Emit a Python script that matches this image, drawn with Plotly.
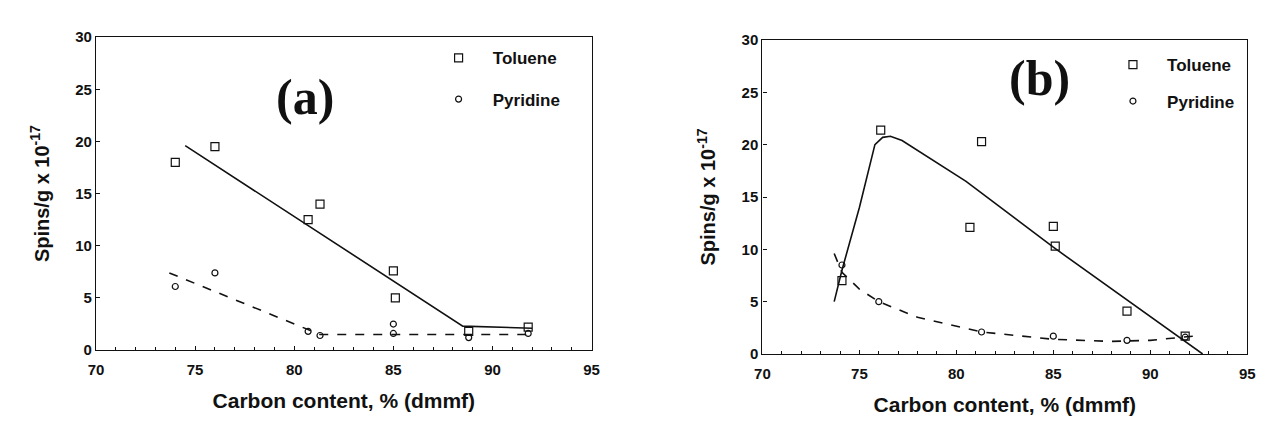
import plotly.graph_objects as go

# ---- Panel (a) data ----
a_tol_x = [74.0, 76.0, 80.7, 81.3, 85.0, 85.1, 88.8, 91.8]
a_tol_y = [18.0, 19.5, 12.5, 14.0, 7.6, 5.0, 1.8, 2.2]
a_pyr_x = [74.0, 76.0, 80.7, 81.3, 85.0, 85.0, 88.8, 91.8]
a_pyr_y = [6.1, 7.4, 1.8, 1.4, 2.5, 1.6, 1.2, 1.6]
a_tol_fit_x = [74.5, 88.5, 92.0]
a_tol_fit_y = [19.6, 2.3, 2.1]
a_pyr_fit_x = [73.7, 81.3, 92.0]
a_pyr_fit_y = [7.4, 1.5, 1.5]

# ---- Panel (b) data ----
b_tol_x = [74.1, 76.1, 80.7, 81.3, 85.0, 85.1, 88.8, 91.8]
b_tol_y = [7.0, 21.4, 12.1, 20.3, 12.2, 10.3, 4.1, 1.7]
b_pyr_x = [74.1, 76.0, 81.3, 85.0, 88.8, 91.8]
b_pyr_y = [8.5, 5.0, 2.1, 1.7, 1.3, 1.6]
b_tol_fit_x = [73.7, 74.1, 75.0, 75.8, 76.2, 76.6, 77.2, 80.5, 85.0, 92.7]
b_tol_fit_y = [5.0, 8.0, 14.0, 20.0, 20.7, 20.8, 20.4, 16.5, 10.2, 0.0]
b_pyr_fit_x = [73.7, 74.1, 75.0, 76.0, 78.0, 81.3, 85.0, 88.0, 90.0, 92.2]
b_pyr_fit_y = [9.6, 7.8, 6.2, 5.0, 3.5, 2.1, 1.4, 1.2, 1.3, 1.7]

x_ticks = [70, 75, 80, 85, 90, 95]
y_ticks = [0, 5, 10, 15, 20, 25, 30]

FONT = "Liberation Sans"
ink = "#111111"
NB = "\u00a0\u00a0\u00a0"

fig = go.Figure()

def add_panel(xa, ya, tx, ty, px, py, tfx, tfy, pfx, pfy, leg1, leg2):
    fig.add_trace(go.Scatter(x=tfx, y=tfy, mode="lines", xaxis=xa, yaxis=ya,
                             line=dict(color=ink, width=1.6), showlegend=False, hoverinfo="skip"))
    fig.add_trace(go.Scatter(x=pfx, y=pfy, mode="lines", xaxis=xa, yaxis=ya,
                             line=dict(color=ink, width=1.6, dash="dash"), showlegend=False, hoverinfo="skip"))
    fig.add_trace(go.Scatter(x=tx, y=ty, mode="markers", xaxis=xa, yaxis=ya, name=NB + "Toluene",
                             legend=leg1,
                             marker=dict(symbol="square-open", size=8, color=ink, line=dict(width=1.2))))
    fig.add_trace(go.Scatter(x=px, y=py, mode="markers", xaxis=xa, yaxis=ya, name=NB + "Pyridine",
                             legend=leg2,
                             marker=dict(symbol="circle-open", size=6, color=ink, line=dict(width=1.2))))

add_panel("x", "y", a_tol_x, a_tol_y, a_pyr_x, a_pyr_y, a_tol_fit_x, a_tol_fit_y, a_pyr_fit_x, a_pyr_fit_y, "legend", "legend2")
add_panel("x2", "y2", b_tol_x, b_tol_y, b_pyr_x, b_pyr_y, b_tol_fit_x, b_tol_fit_y, b_pyr_fit_x, b_pyr_fit_y, "legend3", "legend4")

W, H = 1265, 425
def px_x(p): return p / W
def px_y(p): return 1 - p / H

axis_common = dict(showgrid=False, zeroline=False, showline=True, linecolor=ink, linewidth=1.3,
                   mirror=True, ticks="inside", ticklen=4, tickcolor=ink,
                   tickfont=dict(family=FONT, size=15, color=ink, weight="bold"))
xcommon = dict(axis_common, range=[70, 95], tickvals=x_ticks, ticklabelstandoff=6,
               minor=dict(ticks="inside", ticklen=3, dtick=1, tickcolor=ink),
               title=dict(text="Carbon content, % (dmmf)", standoff=16,
                          font=dict(family=FONT, size=21, color=ink, weight="bold")))
ycommon = dict(axis_common, range=[0, 30], tickvals=y_ticks,
               title=dict(text="Spins/g x 10<sup>-17</sup>", standoff=20,
                          font=dict(family=FONT, size=20, color=ink, weight="bold")))

leg_font = dict(family=FONT, size=17, color=ink, weight="bold")
def leg(x, y):
    return dict(x=x, y=y, xanchor="left", yanchor="middle", bgcolor="rgba(0,0,0,0)",
                font=leg_font, itemwidth=30)

fig.update_layout(
    width=W, height=H, paper_bgcolor="white", plot_bgcolor="white",
    margin=dict(l=0, r=0, t=0, b=0),
    xaxis=dict(xcommon, domain=[px_x(81), px_x(583)], anchor="y"),
    yaxis=dict(ycommon, domain=[px_y(347), px_y(21)], anchor="x"),
    xaxis2=dict(xcommon, domain=[px_x(756), px_x(1247)], anchor="y2"),
    yaxis2=dict(ycommon, domain=[px_y(351), px_y(24)], anchor="x2"),
    legend=leg(px_x(428), px_y(43)),
    legend2=leg(px_x(428), px_y(86)),
    legend3=leg(px_x(1111), px_y(50)),
    legend4=leg(px_x(1111), px_y(88)),
    annotations=[
        dict(text="(a)", x=80.55, y=24.3, xref="x", yref="y", showarrow=False,
             font=dict(family="Liberation Serif", size=50, color=ink, weight="bold")),
        dict(text="(b)", x=84.3, y=26.4, xref="x2", yref="y2", showarrow=False,
             font=dict(family="Liberation Serif", size=50, color=ink, weight="bold")),
    ],
)

fig.write_html("out.html")
